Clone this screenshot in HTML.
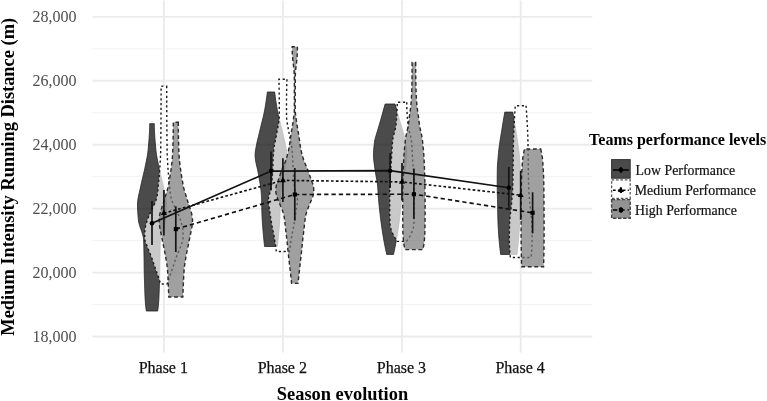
<!DOCTYPE html>
<html><head><meta charset="utf-8"><style>
html,body{margin:0;padding:0;background:#fff;}
svg{display:block;will-change:transform;}
text{font-family:"Liberation Serif",serif;}
.yl{font-size:16px;fill:#4d4d4d;}
.xl{font-size:16px;fill:#111;stroke:#111;stroke-width:0.25px;}
.at{font-size:18.4px;font-weight:bold;fill:#000;}
.lt{font-size:16px;font-weight:bold;fill:#000;}
.ll{font-size:13.85px;fill:#111;stroke:#111;stroke-width:0.2px;}
</style></head><body>
<svg width="767" height="401" viewBox="0 0 767 401">
<line x1="92.5" x2="592.3" y1="336.50" y2="336.50" stroke="#ebebeb" stroke-width="1.9"/>
<line x1="92.5" x2="592.3" y1="304.54" y2="304.54" stroke="#f2f2f2" stroke-width="1"/>
<line x1="92.5" x2="592.3" y1="272.58" y2="272.58" stroke="#ebebeb" stroke-width="1.9"/>
<line x1="92.5" x2="592.3" y1="240.62" y2="240.62" stroke="#f2f2f2" stroke-width="1"/>
<line x1="92.5" x2="592.3" y1="208.66" y2="208.66" stroke="#ebebeb" stroke-width="1.9"/>
<line x1="92.5" x2="592.3" y1="176.70" y2="176.70" stroke="#f2f2f2" stroke-width="1"/>
<line x1="92.5" x2="592.3" y1="144.74" y2="144.74" stroke="#ebebeb" stroke-width="1.9"/>
<line x1="92.5" x2="592.3" y1="112.78" y2="112.78" stroke="#f2f2f2" stroke-width="1"/>
<line x1="92.5" x2="592.3" y1="80.82" y2="80.82" stroke="#ebebeb" stroke-width="1.9"/>
<line x1="92.5" x2="592.3" y1="48.86" y2="48.86" stroke="#f2f2f2" stroke-width="1"/>
<line x1="92.5" x2="592.3" y1="16.90" y2="16.90" stroke="#ebebeb" stroke-width="1.9"/>
<line x1="163.9" x2="163.9" y1="0.5" y2="352.5" stroke="#ebebeb" stroke-width="1.9"/>
<line x1="282.9" x2="282.9" y1="0.5" y2="352.5" stroke="#ebebeb" stroke-width="1.9"/>
<line x1="402.0" x2="402.0" y1="0.5" y2="352.5" stroke="#ebebeb" stroke-width="1.9"/>
<line x1="520.7" x2="520.7" y1="0.5" y2="352.5" stroke="#ebebeb" stroke-width="1.9"/>
<path d="M154.30,123.70 L154.31,125.74 L154.35,127.77 L154.42,129.81 L154.50,131.84 L154.61,133.88 L154.73,135.92 L154.87,137.95 L155.02,139.99 L155.18,142.02 L155.36,144.06 L155.54,146.09 L155.73,148.13 L155.92,150.17 L156.15,152.20 L156.43,154.24 L156.77,156.27 L157.14,158.31 L157.54,160.35 L157.96,162.38 L158.38,164.42 L158.79,166.45 L159.21,168.49 L159.65,170.53 L160.12,172.56 L160.61,174.60 L161.10,176.63 L161.59,178.67 L162.07,180.70 L162.53,182.74 L162.96,184.78 L163.38,186.81 L163.84,188.85 L164.31,190.88 L164.78,192.92 L165.24,194.96 L165.65,196.99 L166.00,199.03 L166.27,201.06 L166.44,203.10 L166.50,205.13 L166.47,207.17 L166.41,209.21 L166.31,211.24 L166.17,213.28 L166.02,215.31 L165.84,217.35 L165.66,219.39 L165.41,221.42 L164.99,223.46 L164.42,225.49 L163.75,227.53 L163.03,229.57 L162.32,231.60 L161.65,233.64 L161.08,235.67 L160.65,237.71 L160.41,239.74 L160.32,241.78 L160.25,243.82 L160.19,245.85 L160.14,247.89 L160.09,249.92 L160.05,251.96 L160.02,254.00 L159.98,256.03 L159.95,258.07 L159.93,260.10 L159.90,262.14 L159.88,264.18 L159.86,266.21 L159.83,268.25 L159.79,270.28 L159.75,272.32 L159.71,274.35 L159.66,276.39 L159.60,278.43 L159.54,280.46 L159.48,282.50 L159.41,284.53 L159.35,286.57 L159.28,288.61 L159.22,290.64 L159.14,292.68 L159.06,294.71 L158.97,296.75 L158.87,298.78 L158.75,300.82 L158.59,302.86 L158.40,304.89 L158.19,306.93 L157.95,308.96 L157.70,311.00 L146.30,311.00 L146.05,308.96 L145.81,306.93 L145.60,304.89 L145.41,302.86 L145.25,300.82 L145.13,298.78 L145.03,296.75 L144.94,294.71 L144.86,292.68 L144.78,290.64 L144.72,288.61 L144.65,286.57 L144.59,284.53 L144.52,282.50 L144.46,280.46 L144.40,278.43 L144.34,276.39 L144.29,274.35 L144.25,272.32 L144.21,270.28 L144.17,268.25 L144.14,266.21 L144.12,264.18 L144.10,262.14 L144.07,260.10 L144.05,258.07 L144.02,256.03 L143.98,254.00 L143.95,251.96 L143.91,249.92 L143.86,247.89 L143.81,245.85 L143.75,243.82 L143.68,241.78 L143.59,239.74 L143.35,237.71 L142.92,235.67 L142.35,233.64 L141.68,231.60 L140.97,229.57 L140.25,227.53 L139.58,225.49 L139.01,223.46 L138.59,221.42 L138.34,219.39 L138.16,217.35 L137.98,215.31 L137.83,213.28 L137.69,211.24 L137.59,209.21 L137.53,207.17 L137.50,205.13 L137.56,203.10 L137.73,201.06 L138.00,199.03 L138.35,196.99 L138.76,194.96 L139.22,192.92 L139.69,190.88 L140.16,188.85 L140.62,186.81 L141.04,184.78 L141.47,182.74 L141.93,180.70 L142.41,178.67 L142.90,176.63 L143.39,174.60 L143.88,172.56 L144.35,170.53 L144.79,168.49 L145.21,166.45 L145.62,164.42 L146.04,162.38 L146.46,160.35 L146.86,158.31 L147.23,156.27 L147.57,154.24 L147.85,152.20 L148.08,150.17 L148.27,148.13 L148.46,146.09 L148.64,144.06 L148.82,142.02 L148.98,139.99 L149.13,137.95 L149.27,135.92 L149.39,133.88 L149.50,131.84 L149.58,129.81 L149.65,127.77 L149.69,125.74 L149.70,123.70 Z" fill="#000" fill-opacity="0.705" stroke="#222" stroke-width="0.8"/>
<path d="M166.70,86.10 L166.70,88.14 L166.70,90.18 L166.70,92.22 L166.71,94.26 L166.71,96.30 L166.71,98.34 L166.72,100.38 L166.73,102.42 L166.73,104.46 L166.74,106.50 L166.75,108.54 L166.76,110.58 L166.77,112.62 L166.78,114.66 L166.79,116.70 L166.80,118.74 L166.81,120.78 L166.83,122.82 L166.84,124.86 L166.86,126.90 L166.88,128.94 L166.89,130.98 L166.91,133.02 L166.93,135.06 L166.95,137.11 L166.97,139.15 L166.99,141.19 L167.02,143.23 L167.04,145.27 L167.07,147.31 L167.09,149.35 L167.12,151.39 L167.18,153.43 L167.25,155.47 L167.34,157.51 L167.44,159.55 L167.56,161.59 L167.68,163.63 L167.81,165.67 L167.95,167.71 L168.08,169.75 L168.23,171.79 L168.40,173.83 L168.58,175.87 L168.78,177.91 L168.99,179.95 L169.20,181.99 L169.40,184.03 L169.60,186.07 L169.77,188.11 L169.95,190.15 L170.14,192.19 L170.39,194.23 L170.73,196.27 L171.23,198.31 L171.85,200.35 L172.54,202.39 L173.43,204.43 L174.45,206.47 L175.44,208.51 L176.43,210.55 L177.42,212.59 L178.35,214.63 L179.19,216.67 L180.00,218.71 L180.72,220.75 L181.33,222.79 L181.92,224.83 L182.45,226.87 L182.81,228.91 L182.94,230.95 L183.02,232.99 L183.07,235.04 L183.10,237.08 L183.03,239.12 L182.59,241.16 L181.88,243.20 L181.07,245.24 L180.30,247.28 L179.50,249.32 L178.63,251.36 L177.74,253.40 L176.93,255.44 L176.18,257.48 L175.46,259.52 L174.75,261.56 L174.06,263.60 L173.38,265.64 L172.69,267.68 L172.00,269.72 L171.29,271.76 L170.59,273.80 L169.89,275.84 L169.19,277.88 L168.49,279.92 L167.80,281.96 L167.10,284.00 L160.70,284.00 L160.00,281.96 L159.31,279.92 L158.61,277.88 L157.91,275.84 L157.21,273.80 L156.51,271.76 L155.80,269.72 L155.11,267.68 L154.42,265.64 L153.74,263.60 L153.05,261.56 L152.34,259.52 L151.62,257.48 L150.87,255.44 L150.06,253.40 L149.17,251.36 L148.30,249.32 L147.50,247.28 L146.73,245.24 L145.92,243.20 L145.21,241.16 L144.77,239.12 L144.70,237.08 L144.73,235.04 L144.78,232.99 L144.86,230.95 L144.99,228.91 L145.35,226.87 L145.88,224.83 L146.47,222.79 L147.08,220.75 L147.80,218.71 L148.61,216.67 L149.45,214.63 L150.38,212.59 L151.37,210.55 L152.36,208.51 L153.35,206.47 L154.37,204.43 L155.26,202.39 L155.95,200.35 L156.57,198.31 L157.07,196.27 L157.41,194.23 L157.66,192.19 L157.85,190.15 L158.03,188.11 L158.20,186.07 L158.40,184.03 L158.60,181.99 L158.81,179.95 L159.02,177.91 L159.22,175.87 L159.40,173.83 L159.57,171.79 L159.72,169.75 L159.85,167.71 L159.99,165.67 L160.12,163.63 L160.24,161.59 L160.36,159.55 L160.46,157.51 L160.55,155.47 L160.62,153.43 L160.68,151.39 L160.71,149.35 L160.73,147.31 L160.76,145.27 L160.78,143.23 L160.81,141.19 L160.83,139.15 L160.85,137.11 L160.87,135.06 L160.89,133.02 L160.91,130.98 L160.92,128.94 L160.94,126.90 L160.96,124.86 L160.97,122.82 L160.99,120.78 L161.00,118.74 L161.01,116.70 L161.02,114.66 L161.03,112.62 L161.04,110.58 L161.05,108.54 L161.06,106.50 L161.07,104.46 L161.07,102.42 L161.08,100.38 L161.09,98.34 L161.09,96.30 L161.09,94.26 L161.10,92.22 L161.10,90.18 L161.10,88.14 L161.10,86.10 Z" fill="#fff" fill-opacity="0.7" stroke="#1a1a1a" stroke-width="1.4" stroke-dasharray="2.2 2.6" stroke-linecap="butt"/>
<path d="M178.30,122.30 L178.30,124.33 L178.31,126.36 L178.33,128.39 L178.35,130.43 L178.38,132.46 L178.41,134.49 L178.45,136.52 L178.49,138.55 L178.54,140.58 L178.59,142.61 L178.64,144.65 L178.70,146.68 L178.76,148.71 L178.82,150.74 L178.91,152.77 L179.03,154.80 L179.17,156.83 L179.34,158.87 L179.53,160.90 L179.74,162.93 L179.98,164.96 L180.23,166.99 L180.50,169.02 L180.79,171.05 L181.09,173.08 L181.41,175.12 L181.74,177.15 L182.08,179.18 L182.43,181.21 L182.79,183.24 L183.15,185.27 L183.58,187.30 L184.10,189.34 L184.69,191.37 L185.31,193.40 L185.95,195.43 L186.57,197.46 L187.16,199.49 L187.74,201.52 L188.38,203.56 L189.07,205.59 L189.78,207.62 L190.46,209.65 L191.10,211.68 L191.65,213.71 L192.09,215.74 L192.38,217.78 L192.50,219.81 L192.45,221.84 L192.29,223.87 L192.05,225.90 L191.73,227.93 L191.35,229.96 L190.94,232.00 L190.51,234.03 L190.08,236.06 L189.66,238.09 L189.28,240.12 L188.89,242.15 L188.48,244.18 L188.06,246.22 L187.62,248.25 L187.20,250.28 L186.79,252.31 L186.41,254.34 L186.07,256.37 L185.71,258.40 L185.36,260.43 L185.03,262.47 L184.72,264.50 L184.45,266.53 L184.23,268.56 L184.06,270.59 L183.92,272.62 L183.79,274.65 L183.68,276.69 L183.58,278.72 L183.49,280.75 L183.40,282.78 L183.32,284.81 L183.24,286.84 L183.15,288.87 L183.06,290.91 L182.97,292.94 L182.88,294.97 L182.80,297.00 L168.80,297.00 L168.72,294.97 L168.63,292.94 L168.54,290.91 L168.45,288.87 L168.36,286.84 L168.28,284.81 L168.20,282.78 L168.11,280.75 L168.02,278.72 L167.92,276.69 L167.81,274.65 L167.68,272.62 L167.54,270.59 L167.37,268.56 L167.15,266.53 L166.88,264.50 L166.57,262.47 L166.24,260.43 L165.89,258.40 L165.53,256.37 L165.19,254.34 L164.81,252.31 L164.40,250.28 L163.98,248.25 L163.54,246.22 L163.12,244.18 L162.71,242.15 L162.32,240.12 L161.94,238.09 L161.52,236.06 L161.09,234.03 L160.66,232.00 L160.25,229.96 L159.87,227.93 L159.55,225.90 L159.31,223.87 L159.15,221.84 L159.10,219.81 L159.22,217.78 L159.51,215.74 L159.95,213.71 L160.50,211.68 L161.14,209.65 L161.82,207.62 L162.53,205.59 L163.22,203.56 L163.86,201.52 L164.44,199.49 L165.03,197.46 L165.65,195.43 L166.29,193.40 L166.91,191.37 L167.50,189.34 L168.02,187.30 L168.45,185.27 L168.81,183.24 L169.17,181.21 L169.52,179.18 L169.86,177.15 L170.19,175.12 L170.51,173.08 L170.81,171.05 L171.10,169.02 L171.37,166.99 L171.62,164.96 L171.86,162.93 L172.07,160.90 L172.26,158.87 L172.43,156.83 L172.57,154.80 L172.69,152.77 L172.78,150.74 L172.84,148.71 L172.90,146.68 L172.96,144.65 L173.01,142.61 L173.06,140.58 L173.11,138.55 L173.15,136.52 L173.19,134.49 L173.22,132.46 L173.25,130.43 L173.27,128.39 L173.29,126.36 L173.30,124.33 L173.30,122.30 Z" fill="#777" fill-opacity="0.7" stroke="#2a2a2a" stroke-width="1.4" stroke-dasharray="3.8 2.7"/>
<path d="M274.60,92.00 L274.86,94.03 L275.13,96.07 L275.42,98.10 L275.72,100.13 L276.03,102.16 L276.34,104.20 L276.67,106.23 L277.01,108.26 L277.37,110.30 L277.77,112.33 L278.20,114.36 L278.67,116.39 L279.16,118.43 L279.67,120.46 L280.18,122.49 L280.69,124.53 L281.17,126.56 L281.67,128.59 L282.16,130.62 L282.64,132.66 L283.13,134.69 L283.62,136.72 L284.12,138.76 L284.62,140.79 L285.08,142.82 L285.47,144.86 L285.85,146.89 L286.23,148.92 L286.57,150.95 L286.81,152.99 L286.90,155.02 L286.83,157.05 L286.62,159.09 L286.32,161.12 L285.94,163.15 L285.50,165.18 L285.03,167.22 L284.56,169.25 L284.10,171.28 L283.69,173.32 L283.35,175.35 L283.02,177.38 L282.67,179.41 L282.32,181.45 L281.98,183.48 L281.65,185.51 L281.35,187.55 L281.08,189.58 L280.86,191.61 L280.68,193.64 L280.57,195.68 L280.48,197.71 L280.41,199.74 L280.36,201.78 L280.31,203.81 L280.26,205.84 L280.22,207.88 L280.17,209.91 L280.11,211.94 L280.04,213.97 L279.96,216.01 L279.85,218.04 L279.74,220.07 L279.61,222.11 L279.47,224.14 L279.32,226.17 L279.16,228.20 L279.00,230.24 L278.83,232.27 L278.66,234.30 L278.48,236.34 L278.29,238.37 L278.08,240.40 L277.86,242.43 L277.64,244.47 L277.40,246.50 L264.60,246.50 L264.36,244.47 L264.14,242.43 L263.92,240.40 L263.71,238.37 L263.52,236.34 L263.34,234.30 L263.17,232.27 L263.00,230.24 L262.84,228.20 L262.68,226.17 L262.53,224.14 L262.39,222.11 L262.26,220.07 L262.15,218.04 L262.04,216.01 L261.96,213.97 L261.89,211.94 L261.83,209.91 L261.78,207.88 L261.74,205.84 L261.69,203.81 L261.64,201.78 L261.59,199.74 L261.52,197.71 L261.43,195.68 L261.32,193.64 L261.14,191.61 L260.92,189.58 L260.65,187.55 L260.35,185.51 L260.02,183.48 L259.68,181.45 L259.33,179.41 L258.98,177.38 L258.65,175.35 L258.31,173.32 L257.90,171.28 L257.44,169.25 L256.97,167.22 L256.50,165.18 L256.06,163.15 L255.68,161.12 L255.38,159.09 L255.17,157.05 L255.10,155.02 L255.19,152.99 L255.43,150.95 L255.77,148.92 L256.15,146.89 L256.53,144.86 L256.92,142.82 L257.38,140.79 L257.88,138.76 L258.38,136.72 L258.87,134.69 L259.36,132.66 L259.84,130.62 L260.33,128.59 L260.83,126.56 L261.31,124.53 L261.82,122.49 L262.33,120.46 L262.84,118.43 L263.33,116.39 L263.80,114.36 L264.23,112.33 L264.63,110.30 L264.99,108.26 L265.33,106.23 L265.66,104.20 L265.97,102.16 L266.28,100.13 L266.58,98.10 L266.87,96.07 L267.14,94.03 L267.40,92.00 Z" fill="#000" fill-opacity="0.705" stroke="#222" stroke-width="0.8"/>
<path d="M286.90,79.20 L286.84,81.23 L286.78,83.25 L286.73,85.28 L286.69,87.31 L286.65,89.34 L286.62,91.36 L286.59,93.39 L286.57,95.42 L286.55,97.44 L286.53,99.47 L286.52,101.50 L286.51,103.52 L286.51,105.55 L286.50,107.58 L286.50,109.61 L286.50,111.63 L286.50,113.66 L286.51,115.69 L286.59,117.71 L286.77,119.74 L287.03,121.77 L287.34,123.80 L287.69,125.82 L288.08,127.85 L288.47,129.88 L288.86,131.90 L289.22,133.93 L289.56,135.96 L289.95,137.98 L290.37,140.01 L290.80,142.04 L291.21,144.07 L291.59,146.09 L291.90,148.12 L292.11,150.15 L292.27,152.17 L292.40,154.20 L292.52,156.23 L292.62,158.26 L292.71,160.28 L292.79,162.31 L292.87,164.34 L292.95,166.36 L293.04,168.39 L293.13,170.42 L293.24,172.44 L293.36,174.47 L293.50,176.50 L293.65,178.53 L293.81,180.55 L293.99,182.58 L294.19,184.61 L294.42,186.63 L294.70,188.66 L295.19,190.69 L295.82,192.72 L296.49,194.74 L297.07,196.77 L297.43,198.80 L297.48,200.82 L297.32,202.85 L297.04,204.88 L296.70,206.90 L296.36,208.93 L296.07,210.96 L295.80,212.99 L295.53,215.01 L295.24,217.04 L294.94,219.07 L294.62,221.09 L294.27,223.12 L293.90,225.15 L293.51,227.18 L293.11,229.20 L292.71,231.23 L292.31,233.26 L291.92,235.28 L291.55,237.31 L291.21,239.34 L290.89,241.36 L290.59,243.39 L290.30,245.42 L290.02,247.45 L289.75,249.47 L289.50,251.50 L276.30,251.50 L276.05,249.47 L275.78,247.45 L275.50,245.42 L275.21,243.39 L274.91,241.36 L274.59,239.34 L274.25,237.31 L273.88,235.28 L273.49,233.26 L273.09,231.23 L272.69,229.20 L272.29,227.18 L271.90,225.15 L271.53,223.12 L271.18,221.09 L270.86,219.07 L270.56,217.04 L270.27,215.01 L270.00,212.99 L269.73,210.96 L269.44,208.93 L269.10,206.90 L268.76,204.88 L268.48,202.85 L268.32,200.82 L268.37,198.80 L268.73,196.77 L269.31,194.74 L269.98,192.72 L270.61,190.69 L271.10,188.66 L271.38,186.63 L271.61,184.61 L271.81,182.58 L271.99,180.55 L272.15,178.53 L272.30,176.50 L272.44,174.47 L272.56,172.44 L272.67,170.42 L272.76,168.39 L272.85,166.36 L272.93,164.34 L273.01,162.31 L273.09,160.28 L273.18,158.26 L273.28,156.23 L273.40,154.20 L273.53,152.17 L273.69,150.15 L273.90,148.12 L274.21,146.09 L274.59,144.07 L275.00,142.04 L275.43,140.01 L275.85,137.98 L276.24,135.96 L276.58,133.93 L276.94,131.90 L277.33,129.88 L277.72,127.85 L278.11,125.82 L278.46,123.80 L278.77,121.77 L279.03,119.74 L279.21,117.71 L279.29,115.69 L279.30,113.66 L279.30,111.63 L279.30,109.61 L279.30,107.58 L279.29,105.55 L279.29,103.52 L279.28,101.50 L279.27,99.47 L279.25,97.44 L279.23,95.42 L279.21,93.39 L279.18,91.36 L279.15,89.34 L279.11,87.31 L279.07,85.28 L279.02,83.25 L278.96,81.23 L278.90,79.20 Z" fill="#fff" fill-opacity="0.7" stroke="#1a1a1a" stroke-width="1.4" stroke-dasharray="2.2 2.6" stroke-linecap="butt"/>
<path d="M297.40,46.80 L297.39,48.82 L297.37,50.84 L297.33,52.87 L297.23,54.89 L297.07,56.91 L296.89,58.93 L296.71,60.96 L296.47,62.98 L296.21,65.00 L295.99,67.02 L295.76,69.04 L295.56,71.07 L295.44,73.09 L295.33,75.11 L295.26,77.13 L295.25,79.16 L295.25,81.18 L295.25,83.20 L295.25,85.22 L295.25,87.24 L295.25,89.27 L295.25,91.29 L295.25,93.31 L295.25,95.33 L295.25,97.36 L295.25,99.38 L295.25,101.40 L295.25,103.42 L295.25,105.44 L295.25,107.47 L295.25,109.49 L295.29,111.51 L295.45,113.53 L295.69,115.56 L295.97,117.58 L296.25,119.60 L296.52,121.62 L296.81,123.64 L297.13,125.67 L297.47,127.69 L297.82,129.71 L298.16,131.73 L298.50,133.76 L298.82,135.78 L299.12,137.80 L299.40,139.82 L299.68,141.84 L299.97,143.87 L300.27,145.89 L300.61,147.91 L300.99,149.93 L301.42,151.96 L301.92,153.98 L302.47,156.00 L303.07,158.02 L303.71,160.04 L304.45,162.07 L305.29,164.09 L306.18,166.11 L307.05,168.13 L307.86,170.16 L308.59,172.18 L309.28,174.20 L309.98,176.22 L310.67,178.24 L311.35,180.27 L312.09,182.29 L312.91,184.31 L313.51,186.33 L313.70,188.36 L313.79,190.38 L313.70,192.40 L313.32,194.42 L312.80,196.44 L312.02,198.47 L311.21,200.49 L310.41,202.51 L309.59,204.53 L308.76,206.56 L307.94,208.58 L307.18,210.60 L306.47,212.62 L305.88,214.64 L305.48,216.67 L305.18,218.69 L304.91,220.71 L304.67,222.73 L304.45,224.76 L304.25,226.78 L304.03,228.80 L303.80,230.82 L303.56,232.84 L303.31,234.87 L303.06,236.89 L302.82,238.91 L302.60,240.93 L302.39,242.96 L302.20,244.98 L302.00,247.00 L301.80,249.02 L301.59,251.04 L301.37,253.07 L301.15,255.09 L300.92,257.11 L300.70,259.13 L300.47,261.16 L300.24,263.18 L300.01,265.20 L299.78,267.22 L299.55,269.24 L299.32,271.27 L299.09,273.29 L298.87,275.31 L298.65,277.33 L298.43,279.36 L298.21,281.38 L298.00,283.40 L291.60,283.40 L291.39,281.38 L291.17,279.36 L290.95,277.33 L290.73,275.31 L290.51,273.29 L290.28,271.27 L290.05,269.24 L289.82,267.22 L289.59,265.20 L289.36,263.18 L289.13,261.16 L288.90,259.13 L288.68,257.11 L288.45,255.09 L288.23,253.07 L288.01,251.04 L287.80,249.02 L287.60,247.00 L287.40,244.98 L287.21,242.96 L287.00,240.93 L286.78,238.91 L286.54,236.89 L286.29,234.87 L286.04,232.84 L285.80,230.82 L285.57,228.80 L285.35,226.78 L285.15,224.76 L284.93,222.73 L284.69,220.71 L284.42,218.69 L284.12,216.67 L283.72,214.64 L283.13,212.62 L282.42,210.60 L281.66,208.58 L280.84,206.56 L280.01,204.53 L279.19,202.51 L278.39,200.49 L277.58,198.47 L276.80,196.44 L276.28,194.42 L275.90,192.40 L275.81,190.38 L275.90,188.36 L276.09,186.33 L276.69,184.31 L277.51,182.29 L278.25,180.27 L278.93,178.24 L279.62,176.22 L280.32,174.20 L281.01,172.18 L281.74,170.16 L282.55,168.13 L283.42,166.11 L284.31,164.09 L285.15,162.07 L285.89,160.04 L286.53,158.02 L287.13,156.00 L287.68,153.98 L288.18,151.96 L288.61,149.93 L288.99,147.91 L289.33,145.89 L289.63,143.87 L289.92,141.84 L290.20,139.82 L290.48,137.80 L290.78,135.78 L291.10,133.76 L291.44,131.73 L291.78,129.71 L292.13,127.69 L292.47,125.67 L292.79,123.64 L293.08,121.62 L293.35,119.60 L293.63,117.58 L293.91,115.56 L294.15,113.53 L294.31,111.51 L294.35,109.49 L294.35,107.47 L294.35,105.44 L294.35,103.42 L294.35,101.40 L294.35,99.38 L294.35,97.36 L294.35,95.33 L294.35,93.31 L294.35,91.29 L294.35,89.27 L294.35,87.24 L294.35,85.22 L294.35,83.20 L294.35,81.18 L294.35,79.16 L294.34,77.13 L294.27,75.11 L294.16,73.09 L294.04,71.07 L293.84,69.04 L293.61,67.02 L293.39,65.00 L293.13,62.98 L292.89,60.96 L292.71,58.93 L292.53,56.91 L292.37,54.89 L292.27,52.87 L292.23,50.84 L292.21,48.82 L292.20,46.80 Z" fill="#777" fill-opacity="0.7" stroke="#2a2a2a" stroke-width="1.4" stroke-dasharray="3.8 2.7"/>
<path d="M395.05,104.00 L395.62,106.03 L396.19,108.06 L396.77,110.10 L397.34,112.13 L397.90,114.16 L398.47,116.19 L399.03,118.23 L399.60,120.26 L400.18,122.29 L400.79,124.32 L401.42,126.36 L402.04,128.39 L402.65,130.42 L403.23,132.45 L403.84,134.49 L404.46,136.52 L405.02,138.55 L405.48,140.58 L405.77,142.62 L406.01,144.65 L406.23,146.68 L406.42,148.71 L406.56,150.75 L406.66,152.78 L406.70,154.81 L406.66,156.84 L406.53,158.88 L406.33,160.91 L406.08,162.94 L405.80,164.97 L405.51,167.01 L405.23,169.04 L404.95,171.07 L404.64,173.10 L404.28,175.14 L403.91,177.17 L403.54,179.20 L403.20,181.23 L402.90,183.26 L402.67,185.30 L402.49,187.33 L402.33,189.36 L402.20,191.39 L402.07,193.43 L401.94,195.46 L401.80,197.49 L401.64,199.52 L401.46,201.56 L401.27,203.59 L401.07,205.62 L400.86,207.65 L400.63,209.69 L400.40,211.72 L400.17,213.75 L399.92,215.78 L399.67,217.82 L399.42,219.85 L399.16,221.88 L398.89,223.91 L398.60,225.95 L398.31,227.98 L398.01,230.01 L397.70,232.04 L397.39,234.08 L397.06,236.11 L396.72,238.14 L396.37,240.17 L396.01,242.21 L395.62,244.24 L395.23,246.27 L394.81,248.30 L394.39,250.34 L393.95,252.37 L393.50,254.40 L386.70,254.40 L386.25,252.37 L385.81,250.34 L385.39,248.30 L384.97,246.27 L384.58,244.24 L384.19,242.21 L383.83,240.17 L383.48,238.14 L383.14,236.11 L382.81,234.08 L382.50,232.04 L382.19,230.01 L381.89,227.98 L381.60,225.95 L381.31,223.91 L381.04,221.88 L380.78,219.85 L380.53,217.82 L380.28,215.78 L380.03,213.75 L379.80,211.72 L379.57,209.69 L379.34,207.65 L379.13,205.62 L378.93,203.59 L378.74,201.56 L378.56,199.52 L378.40,197.49 L378.26,195.46 L378.13,193.43 L378.00,191.39 L377.87,189.36 L377.71,187.33 L377.53,185.30 L377.30,183.26 L377.00,181.23 L376.66,179.20 L376.29,177.17 L375.92,175.14 L375.56,173.10 L375.25,171.07 L374.97,169.04 L374.69,167.01 L374.40,164.97 L374.12,162.94 L373.87,160.91 L373.67,158.88 L373.54,156.84 L373.50,154.81 L373.54,152.78 L373.64,150.75 L373.78,148.71 L373.97,146.68 L374.19,144.65 L374.43,142.62 L374.72,140.58 L375.18,138.55 L375.74,136.52 L376.36,134.49 L376.97,132.45 L377.55,130.42 L378.16,128.39 L378.78,126.36 L379.41,124.32 L380.02,122.29 L380.60,120.26 L381.17,118.23 L381.73,116.19 L382.30,114.16 L382.86,112.13 L383.43,110.10 L384.01,108.06 L384.58,106.03 L385.15,104.00 Z" fill="#000" fill-opacity="0.705" stroke="#222" stroke-width="0.8"/>
<path d="M406.75,102.30 L406.76,104.35 L406.80,106.39 L406.86,108.44 L406.95,110.48 L407.05,112.53 L407.17,114.57 L407.31,116.62 L407.46,118.66 L407.62,120.71 L407.80,122.76 L407.98,124.80 L408.25,126.85 L408.67,128.89 L409.19,130.94 L409.77,132.98 L410.33,135.03 L410.82,137.07 L411.19,139.12 L411.42,141.17 L411.59,143.21 L411.75,145.26 L411.88,147.30 L412.01,149.35 L412.12,151.39 L412.22,153.44 L412.33,155.49 L412.45,157.53 L412.57,159.58 L412.71,161.62 L412.88,163.67 L413.05,165.71 L413.23,167.76 L413.42,169.80 L413.60,171.85 L413.77,173.90 L413.93,175.94 L414.07,177.99 L414.18,180.03 L414.26,182.08 L414.30,184.12 L414.30,186.17 L414.30,188.21 L414.30,190.26 L414.30,192.31 L414.30,194.35 L414.30,196.40 L414.30,198.44 L414.30,200.49 L414.30,202.53 L414.30,204.58 L414.30,206.62 L414.30,208.67 L414.30,210.72 L414.29,212.76 L414.26,214.81 L414.22,216.85 L414.16,218.90 L414.09,220.94 L414.00,222.99 L413.90,225.04 L413.59,227.08 L413.00,229.13 L412.23,231.17 L411.41,233.22 L410.47,235.26 L409.34,237.31 L408.03,239.35 L406.60,241.40 L397.40,241.40 L395.97,239.35 L394.66,237.31 L393.53,235.26 L392.59,233.22 L391.77,231.17 L391.00,229.13 L390.41,227.08 L390.10,225.04 L390.00,222.99 L389.91,220.94 L389.84,218.90 L389.78,216.85 L389.74,214.81 L389.71,212.76 L389.70,210.72 L389.70,208.67 L389.70,206.62 L389.70,204.58 L389.70,202.53 L389.70,200.49 L389.70,198.44 L389.70,196.40 L389.70,194.35 L389.70,192.31 L389.70,190.26 L389.70,188.21 L389.70,186.17 L389.70,184.12 L389.74,182.08 L389.82,180.03 L389.93,177.99 L390.07,175.94 L390.23,173.90 L390.40,171.85 L390.58,169.80 L390.77,167.76 L390.95,165.71 L391.12,163.67 L391.29,161.62 L391.43,159.58 L391.55,157.53 L391.67,155.49 L391.78,153.44 L391.88,151.39 L391.99,149.35 L392.12,147.30 L392.25,145.26 L392.41,143.21 L392.58,141.17 L392.81,139.12 L393.18,137.07 L393.67,135.03 L394.23,132.98 L394.81,130.94 L395.33,128.89 L395.75,126.85 L396.02,124.80 L396.20,122.76 L396.38,120.71 L396.54,118.66 L396.69,116.62 L396.83,114.57 L396.95,112.53 L397.05,110.48 L397.14,108.44 L397.20,106.39 L397.24,104.35 L397.25,102.30 Z" fill="#fff" fill-opacity="0.7" stroke="#1a1a1a" stroke-width="1.4" stroke-dasharray="2.2 2.6" stroke-linecap="butt"/>
<path d="M415.70,62.50 L415.70,64.53 L415.71,66.57 L415.71,68.60 L415.73,70.63 L415.74,72.67 L415.75,74.70 L415.77,76.74 L415.79,78.77 L415.81,80.80 L415.84,82.84 L415.88,84.87 L415.93,86.90 L415.99,88.94 L416.05,90.97 L416.12,93.01 L416.20,95.04 L416.30,97.07 L416.42,99.11 L416.57,101.14 L416.74,103.17 L416.92,105.21 L417.14,107.24 L417.40,109.28 L417.69,111.31 L417.98,113.34 L418.25,115.38 L418.50,117.41 L418.75,119.44 L419.01,121.48 L419.28,123.51 L419.59,125.54 L419.95,127.58 L420.38,129.61 L420.82,131.65 L421.27,133.68 L421.70,135.71 L422.07,137.75 L422.37,139.78 L422.61,141.81 L422.84,143.85 L423.05,145.88 L423.25,147.92 L423.43,149.95 L423.60,151.98 L423.75,154.02 L423.88,156.05 L424.00,158.08 L424.11,160.12 L424.20,162.15 L424.29,164.18 L424.37,166.22 L424.46,168.25 L424.53,170.29 L424.60,172.32 L424.67,174.35 L424.73,176.39 L424.78,178.42 L424.82,180.45 L424.86,182.49 L424.89,184.52 L424.92,186.56 L424.94,188.59 L424.97,190.62 L424.99,192.66 L425.01,194.69 L425.03,196.72 L425.05,198.76 L425.07,200.79 L425.08,202.82 L425.09,204.86 L425.10,206.89 L425.10,208.93 L425.10,210.96 L425.10,212.99 L425.09,215.03 L425.08,217.06 L425.06,219.09 L425.05,221.13 L425.03,223.16 L425.00,225.20 L424.98,227.23 L424.95,229.26 L424.91,231.30 L424.86,233.33 L424.77,235.36 L424.62,237.40 L424.45,239.43 L424.25,241.47 L424.02,243.50 L423.70,245.53 L423.32,247.57 L422.90,249.60 L404.90,249.60 L404.48,247.57 L404.10,245.53 L403.78,243.50 L403.55,241.47 L403.35,239.43 L403.18,237.40 L403.03,235.36 L402.94,233.33 L402.89,231.30 L402.85,229.26 L402.82,227.23 L402.80,225.20 L402.77,223.16 L402.75,221.13 L402.74,219.09 L402.72,217.06 L402.71,215.03 L402.70,212.99 L402.70,210.96 L402.70,208.93 L402.70,206.89 L402.71,204.86 L402.72,202.82 L402.73,200.79 L402.75,198.76 L402.77,196.72 L402.79,194.69 L402.81,192.66 L402.83,190.62 L402.86,188.59 L402.88,186.56 L402.91,184.52 L402.94,182.49 L402.98,180.45 L403.02,178.42 L403.07,176.39 L403.13,174.35 L403.20,172.32 L403.27,170.29 L403.34,168.25 L403.43,166.22 L403.51,164.18 L403.60,162.15 L403.69,160.12 L403.80,158.08 L403.92,156.05 L404.05,154.02 L404.20,151.98 L404.37,149.95 L404.55,147.92 L404.75,145.88 L404.96,143.85 L405.19,141.81 L405.43,139.78 L405.73,137.75 L406.10,135.71 L406.53,133.68 L406.98,131.65 L407.42,129.61 L407.85,127.58 L408.21,125.54 L408.52,123.51 L408.79,121.48 L409.05,119.44 L409.30,117.41 L409.55,115.38 L409.82,113.34 L410.11,111.31 L410.40,109.28 L410.66,107.24 L410.88,105.21 L411.06,103.17 L411.23,101.14 L411.38,99.11 L411.50,97.07 L411.60,95.04 L411.68,93.01 L411.75,90.97 L411.81,88.94 L411.87,86.90 L411.92,84.87 L411.96,82.84 L411.99,80.80 L412.01,78.77 L412.03,76.74 L412.05,74.70 L412.06,72.67 L412.07,70.63 L412.09,68.60 L412.09,66.57 L412.10,64.53 L412.10,62.50 Z" fill="#777" fill-opacity="0.7" stroke="#2a2a2a" stroke-width="1.4" stroke-dasharray="3.8 2.7"/>
<path d="M512.80,112.10 L513.16,114.13 L513.51,116.17 L513.86,118.20 L514.20,120.23 L514.54,122.26 L514.88,124.30 L515.21,126.33 L515.54,128.36 L515.86,130.40 L516.19,132.43 L516.52,134.46 L516.86,136.49 L517.19,138.53 L517.51,140.56 L517.82,142.59 L518.12,144.63 L518.40,146.66 L518.65,148.69 L518.88,150.72 L519.09,152.76 L519.28,154.79 L519.45,156.82 L519.62,158.86 L519.77,160.89 L519.92,162.92 L520.07,164.95 L520.20,166.99 L520.28,169.02 L520.31,171.05 L520.34,173.09 L520.36,175.12 L520.37,177.15 L520.38,179.18 L520.39,181.22 L520.40,183.25 L520.40,185.28 L520.39,187.32 L520.36,189.35 L520.31,191.38 L520.26,193.41 L520.21,195.45 L520.16,197.48 L520.11,199.51 L520.07,201.55 L520.03,203.58 L520.00,205.61 L519.96,207.64 L519.93,209.68 L519.89,211.71 L519.85,213.74 L519.81,215.78 L519.76,217.81 L519.70,219.84 L519.64,221.87 L519.55,223.91 L519.46,225.94 L519.35,227.97 L519.23,230.01 L519.10,232.04 L518.96,234.07 L518.82,236.10 L518.66,238.14 L518.47,240.17 L518.28,242.20 L518.07,244.24 L517.87,246.27 L517.67,248.30 L517.45,250.33 L517.23,252.37 L517.00,254.40 L500.60,254.40 L500.37,252.37 L500.15,250.33 L499.93,248.30 L499.73,246.27 L499.53,244.24 L499.32,242.20 L499.13,240.17 L498.94,238.14 L498.78,236.10 L498.64,234.07 L498.50,232.04 L498.37,230.01 L498.25,227.97 L498.14,225.94 L498.05,223.91 L497.96,221.87 L497.90,219.84 L497.84,217.81 L497.79,215.78 L497.75,213.74 L497.71,211.71 L497.67,209.68 L497.64,207.64 L497.60,205.61 L497.57,203.58 L497.53,201.55 L497.49,199.51 L497.44,197.48 L497.39,195.45 L497.34,193.41 L497.29,191.38 L497.24,189.35 L497.21,187.32 L497.20,185.28 L497.20,183.25 L497.21,181.22 L497.22,179.18 L497.23,177.15 L497.24,175.12 L497.26,173.09 L497.29,171.05 L497.32,169.02 L497.40,166.99 L497.53,164.95 L497.68,162.92 L497.83,160.89 L497.98,158.86 L498.15,156.82 L498.32,154.79 L498.51,152.76 L498.72,150.72 L498.95,148.69 L499.20,146.66 L499.48,144.63 L499.78,142.59 L500.09,140.56 L500.41,138.53 L500.74,136.49 L501.08,134.46 L501.41,132.43 L501.74,130.40 L502.06,128.36 L502.39,126.33 L502.72,124.30 L503.06,122.26 L503.40,120.23 L503.74,118.20 L504.09,116.17 L504.44,114.13 L504.80,112.10 Z" fill="#000" fill-opacity="0.705" stroke="#222" stroke-width="0.8"/>
<path d="M526.10,105.70 L526.24,107.75 L526.38,109.80 L526.51,111.85 L526.65,113.91 L526.78,115.96 L526.91,118.01 L527.03,120.06 L527.15,122.11 L527.26,124.16 L527.37,126.21 L527.47,128.26 L527.56,130.32 L527.65,132.37 L527.73,134.42 L527.80,136.47 L527.86,138.52 L527.91,140.57 L527.96,142.62 L528.00,144.68 L528.04,146.73 L528.07,148.78 L528.10,150.83 L528.13,152.88 L528.15,154.93 L528.18,156.98 L528.20,159.04 L528.22,161.09 L528.24,163.14 L528.26,165.19 L528.28,167.24 L528.31,169.29 L528.33,171.34 L528.36,173.39 L528.39,175.45 L528.43,177.50 L528.47,179.55 L528.51,181.60 L528.56,183.65 L528.62,185.70 L528.70,187.75 L528.81,189.81 L528.94,191.86 L529.08,193.91 L529.24,195.96 L529.41,198.01 L529.58,200.06 L529.76,202.11 L529.93,204.16 L530.11,206.22 L530.32,208.27 L530.56,210.32 L530.81,212.37 L531.06,214.42 L531.29,216.47 L531.48,218.52 L531.63,220.58 L531.72,222.63 L531.79,224.68 L531.86,226.73 L531.92,228.78 L531.98,230.83 L532.02,232.88 L532.06,234.94 L532.09,236.99 L532.10,239.04 L532.09,241.09 L532.05,243.14 L531.96,245.19 L531.86,247.24 L531.74,249.29 L531.61,251.35 L531.44,253.40 L531.23,255.45 L531.00,257.50 L510.40,257.50 L510.17,255.45 L509.96,253.40 L509.79,251.35 L509.66,249.29 L509.54,247.24 L509.44,245.19 L509.35,243.14 L509.31,241.09 L509.30,239.04 L509.31,236.99 L509.34,234.94 L509.38,232.88 L509.42,230.83 L509.48,228.78 L509.54,226.73 L509.61,224.68 L509.68,222.63 L509.77,220.58 L509.92,218.52 L510.11,216.47 L510.34,214.42 L510.59,212.37 L510.84,210.32 L511.08,208.27 L511.29,206.22 L511.47,204.16 L511.64,202.11 L511.82,200.06 L511.99,198.01 L512.16,195.96 L512.32,193.91 L512.46,191.86 L512.59,189.81 L512.70,187.75 L512.78,185.70 L512.84,183.65 L512.89,181.60 L512.93,179.55 L512.97,177.50 L513.01,175.45 L513.04,173.39 L513.07,171.34 L513.09,169.29 L513.12,167.24 L513.14,165.19 L513.16,163.14 L513.18,161.09 L513.20,159.04 L513.22,156.98 L513.25,154.93 L513.27,152.88 L513.30,150.83 L513.33,148.78 L513.36,146.73 L513.40,144.68 L513.44,142.62 L513.49,140.57 L513.54,138.52 L513.60,136.47 L513.67,134.42 L513.75,132.37 L513.84,130.32 L513.93,128.26 L514.03,126.21 L514.14,124.16 L514.25,122.11 L514.37,120.06 L514.49,118.01 L514.62,115.96 L514.75,113.91 L514.89,111.85 L515.02,109.80 L515.16,107.75 L515.30,105.70 Z" fill="#fff" fill-opacity="0.7" stroke="#1a1a1a" stroke-width="1.4" stroke-dasharray="2.2 2.6" stroke-linecap="butt"/>
<path d="M540.70,149.00 L541.14,151.07 L541.56,153.13 L541.96,155.20 L542.29,157.27 L542.54,159.33 L542.71,161.40 L542.87,163.47 L543.01,165.53 L543.14,167.60 L543.27,169.67 L543.38,171.73 L543.47,173.80 L543.56,175.87 L543.64,177.93 L543.70,180.00 L543.75,182.07 L543.79,184.13 L543.81,186.20 L543.84,188.27 L543.86,190.33 L543.89,192.40 L543.91,194.47 L543.93,196.53 L543.95,198.60 L543.97,200.67 L543.99,202.73 L544.00,204.80 L544.02,206.87 L544.03,208.93 L544.04,211.00 L544.05,213.07 L544.06,215.13 L544.07,217.20 L544.08,219.27 L544.09,221.33 L544.09,223.40 L544.10,225.47 L544.10,227.53 L544.10,229.60 L544.10,231.67 L544.09,233.73 L544.08,235.80 L544.07,237.87 L544.05,239.93 L544.04,242.00 L544.01,244.07 L543.99,246.13 L543.96,248.20 L543.93,250.27 L543.89,252.33 L543.86,254.40 L543.82,256.47 L543.78,258.53 L543.74,260.60 L543.69,262.67 L543.65,264.73 L543.60,266.80 L521.60,266.80 L521.55,264.73 L521.51,262.67 L521.46,260.60 L521.42,258.53 L521.38,256.47 L521.34,254.40 L521.31,252.33 L521.27,250.27 L521.24,248.20 L521.21,246.13 L521.19,244.07 L521.16,242.00 L521.15,239.93 L521.13,237.87 L521.12,235.80 L521.11,233.73 L521.10,231.67 L521.10,229.60 L521.10,227.53 L521.10,225.47 L521.11,223.40 L521.11,221.33 L521.12,219.27 L521.13,217.20 L521.14,215.13 L521.15,213.07 L521.16,211.00 L521.17,208.93 L521.18,206.87 L521.20,204.80 L521.21,202.73 L521.23,200.67 L521.25,198.60 L521.27,196.53 L521.29,194.47 L521.31,192.40 L521.34,190.33 L521.36,188.27 L521.39,186.20 L521.41,184.13 L521.45,182.07 L521.50,180.00 L521.56,177.93 L521.64,175.87 L521.73,173.80 L521.82,171.73 L521.93,169.67 L522.06,167.60 L522.19,165.53 L522.33,163.47 L522.49,161.40 L522.66,159.33 L522.91,157.27 L523.24,155.20 L523.64,153.13 L524.06,151.07 L524.50,149.00 Z" fill="#777" fill-opacity="0.7" stroke="#2a2a2a" stroke-width="1.4" stroke-dasharray="3.8 2.7"/>
<line x1="152.00" x2="152.00" y1="201.0" y2="245.0" stroke="#151515" stroke-width="1.7"/>
<line x1="271.00" x2="271.00" y1="151.5" y2="190.2" stroke="#151515" stroke-width="1.7"/>
<line x1="390.10" x2="390.10" y1="153.0" y2="188.0" stroke="#151515" stroke-width="1.7"/>
<line x1="508.80" x2="508.80" y1="167.0" y2="209.2" stroke="#151515" stroke-width="1.7"/>
<line x1="163.90" x2="163.90" y1="190.0" y2="235.5" stroke="#151515" stroke-width="1.7"/>
<line x1="282.90" x2="282.90" y1="158.2" y2="202.0" stroke="#151515" stroke-width="1.7"/>
<line x1="402.00" x2="402.00" y1="163.0" y2="200.4" stroke="#151515" stroke-width="1.7"/>
<line x1="520.70" x2="520.70" y1="170.8" y2="219.8" stroke="#151515" stroke-width="1.7"/>
<line x1="175.80" x2="175.80" y1="206.4" y2="252.0" stroke="#151515" stroke-width="1.7"/>
<line x1="294.80" x2="294.80" y1="168.0" y2="220.6" stroke="#151515" stroke-width="1.7"/>
<line x1="413.90" x2="413.90" y1="168.6" y2="218.8" stroke="#151515" stroke-width="1.7"/>
<line x1="532.60" x2="532.60" y1="192.3" y2="233.4" stroke="#151515" stroke-width="1.7"/>
<polyline points="152.00,223.2 271.00,171.1 390.10,170.7 508.80,187.8" fill="none" stroke="#111" stroke-width="1.65" />
<polyline points="163.90,213.2 282.90,180.4 402.00,181.9 520.70,195.2" fill="none" stroke="#111" stroke-width="1.65" stroke-dasharray="2.7 2.2"/>
<polyline points="175.80,229.1 294.80,194.5 413.90,194.2 532.60,212.8" fill="none" stroke="#111" stroke-width="1.65" stroke-dasharray="4.3 3"/>
<circle cx="152.00" cy="223.20" r="2.30" fill="#000"/>
<circle cx="271.00" cy="171.10" r="2.30" fill="#000"/>
<circle cx="390.10" cy="170.70" r="2.30" fill="#000"/>
<circle cx="508.80" cy="187.80" r="2.30" fill="#000"/>
<path d="M163.90,209.70 L166.93,214.95 L160.87,214.95 Z" fill="#000"/>
<path d="M282.90,176.90 L285.93,182.15 L279.87,182.15 Z" fill="#000"/>
<path d="M402.00,178.40 L405.03,183.65 L398.97,183.65 Z" fill="#000"/>
<path d="M520.70,191.70 L523.73,196.95 L517.67,196.95 Z" fill="#000"/>
<rect x="173.75" y="227.05" width="4.10" height="4.10" fill="#000"/>
<rect x="292.75" y="192.45" width="4.10" height="4.10" fill="#000"/>
<rect x="411.85" y="192.15" width="4.10" height="4.10" fill="#000"/>
<rect x="530.55" y="210.75" width="4.10" height="4.10" fill="#000"/>
<text x="76.5" y="341.80" text-anchor="end" class="yl">18,000</text>
<text x="76.5" y="277.88" text-anchor="end" class="yl">20,000</text>
<text x="76.5" y="213.96" text-anchor="end" class="yl">22,000</text>
<text x="76.5" y="150.04" text-anchor="end" class="yl">24,000</text>
<text x="76.5" y="86.12" text-anchor="end" class="yl">26,000</text>
<text x="76.5" y="22.20" text-anchor="end" class="yl">28,000</text>
<text x="163.30" y="372.8" text-anchor="middle" class="xl">Phase 1</text>
<text x="282.30" y="372.8" text-anchor="middle" class="xl">Phase 2</text>
<text x="401.40" y="372.8" text-anchor="middle" class="xl">Phase 3</text>
<text x="520.10" y="372.8" text-anchor="middle" class="xl">Phase 4</text>
<text x="342.5" y="399.7" text-anchor="middle" class="at">Season evolution</text>
<text transform="translate(13.6,176.8) rotate(-90)" text-anchor="middle" class="at">Medium Intensity Running Distance (m)</text>
<text x="589.1" y="145.4" class="lt">Teams performance levels</text>
<rect x="611.6" y="159.6" width="18.6" height="18.6" fill="#4a4a4a" stroke="#333" stroke-width="1"/>
<line x1="613.0" x2="628.8" y1="170.00" y2="170.00" stroke="#000" stroke-width="1.5" />
<line x1="620.90" x2="620.90" y1="167.30" y2="172.70" stroke="#000" stroke-width="2.2"/>
<circle cx="620.90" cy="170.00" r="2.30" fill="#000"/>
<text x="635.6" y="174.90" class="ll">Low Performance</text>
<rect x="611.6" y="179.79999999999998" width="18.6" height="18.6" fill="#fff" stroke="#555" stroke-width="1.3" stroke-dasharray="2.6 1.8"/>
<line x1="613.0" x2="628.8" y1="190.20" y2="190.20" stroke="#000" stroke-width="1.5" stroke-dasharray="2.7 2.2"/>
<line x1="620.90" x2="620.90" y1="187.50" y2="192.90" stroke="#000" stroke-width="2.2"/>
<path d="M620.90,186.70 L623.93,191.95 L617.87,191.95 Z" fill="#000"/>
<text x="634.8" y="195.10" class="ll">Medium Performance</text>
<rect x="611.6" y="199.6" width="18.6" height="18.6" fill="#929292" stroke="#444" stroke-width="1.4" stroke-dasharray="3.5 1.6"/>
<line x1="613.0" x2="628.8" y1="210.00" y2="210.00" stroke="#000" stroke-width="1.5" stroke-dasharray="4.3 3"/>
<line x1="620.90" x2="620.90" y1="207.30" y2="212.70" stroke="#000" stroke-width="2.2"/>
<rect x="618.85" y="207.95" width="4.10" height="4.10" fill="#000"/>
<text x="635.0" y="214.90" class="ll">High Performance</text>
</svg>
</body></html>
